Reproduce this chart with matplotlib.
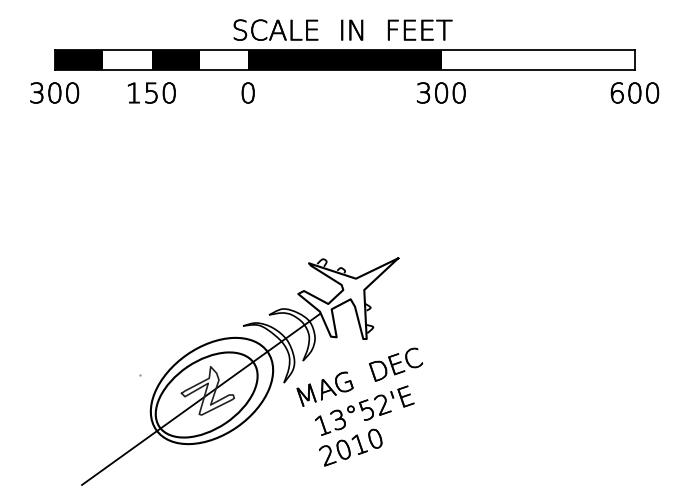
import matplotlib
matplotlib.use("Agg")
import matplotlib.pyplot as plt
import matplotlib.patheffects as pe
from matplotlib.patches import Ellipse, PathPatch
from matplotlib.path import Path

# scale bar, feet
bar_edges = [-300, -225, -150, -75, 0, 300, 600]
bar_colors = ["black", "white", "black", "white", "black", "white"]
tick_feet = [-300, -150, 0, 300, 600]
tick_labels = ["300", "150", "0", "300", "600"]

# drawing outlines, pixels
center_line = [(82, 485), (320, 314)]
plane = [(398.3, 258.3), (356, 278.7), (309, 263.3), (311, 265.7), (341.7, 285), (343.3, 290),
         (328.3, 304), (304, 291), (298.3, 294), (320, 311.7), (331, 336.7), (336.7, 337.3),
         (331.7, 309.3), (350.7, 299.3), (355, 306.7), (363.3, 339), (366.7, 339), (364.3, 290),
         (398.3, 258.3)]
engines = [[(317.3, 264), (322.7, 259.3), (326.7, 261.7), (324, 266.7)],
           [(337.3, 270.7), (341, 268), (345, 270.7), (344.3, 273.3)],
           [(365.7, 304), (370.7, 307.7), (366.7, 310.7)],
           [(366.7, 325), (373.3, 327.3), (367.3, 333.3)]]
crescents = [[(243, 326), (257, 323), (273, 328), (287, 340), (294, 357), (293, 370), (284, 383)],
             [(243, 326), (257, 325), (268, 330), (282, 342), (289, 355), (289, 368), (284, 383)],
             [(269, 315), (283, 309), (298, 313), (310, 322), (315, 337), (312, 350), (303, 361)],
             [(269, 315), (282, 313), (292, 315), (303, 323), (309, 335), (308, 348), (303, 361)]]
north = [(181.7, 393.3), (185, 391), (209.3, 378.3), (210.7, 366.7), (216.7, 373.3), (219, 380),
         (210.7, 405), (229.3, 395), (233.3, 395), (234.3, 398.3), (231.7, 400), (201.7, 415),
         (199.3, 414.3), (208.3, 383.3), (185, 396.7), (181.7, 393.3)]
# center x, center y, width, height, angle
rings = [(212, 391, 136, 88, -35), (206.7, 395, 114, 68, -34)]
speck = (140, 375)
mag_lines = ["MAG  DEC", "13°52'E", "2010"]
mag_starts = [(299, 408), (318, 437), (323, 467)]

FONT = "DejaVu Sans"
STROKE = [pe.withStroke(linewidth=0.5, foreground="black")]


def catmull(pts):
    # smooth curve that goes through every point
    n = len(pts)
    verts = [pts[0]]
    codes = [Path.MOVETO]
    for i in range(n - 1):
        p0, p1, p2, p3 = pts[max(i - 1, 0)], pts[i], pts[i + 1], pts[min(i + 2, n - 1)]
        c1 = (p1[0] + (p2[0] - p0[0]) / 6, p1[1] + (p2[1] - p0[1]) / 6)
        c2 = (p2[0] - (p3[0] - p1[0]) / 6, p2[1] - (p3[1] - p1[1]) / 6)
        verts += [c1, c2, p2]
        codes += [Path.CURVE4] * 3
    return Path(verts, codes)


fig = plt.figure(figsize=(6.93, 4.91), dpi=100)

ax = fig.add_axes([0, 0, 1, 1])
ax.set_xlim(0, 693)
ax.set_ylim(491, 0)
ax.axis("off")

ax.plot(*zip(*center_line), color="black", lw=1.3)
ax.plot(*zip(*plane), color="black", lw=1.5, solid_joinstyle="round")
for eng in engines:
    ax.add_patch(PathPatch(catmull(eng), fc="none", ec="black", lw=1.3))
for cr in crescents:
    ax.add_patch(PathPatch(catmull(cr), fc="none", ec="black", lw=1.2))
for cx, cy, w, h, ang in rings:
    ax.add_patch(Ellipse((cx, cy), w, h, angle=ang, fc="none", ec="black", lw=1.5))
ax.plot(*zip(*north), color="#222222", lw=1.2)
ax.plot(*speck, ".", color="#999999", ms=1.5)

for txt, (tx, ty) in zip(mag_lines, mag_starts):
    ax.text(tx, ty, txt, rotation=19, rotation_mode="anchor", ha="left", va="baseline",
            fontsize=19, family=FONT, fontweight=200, color="black", path_effects=STROKE)

# scale bar gets its own axes so it is placed in feet
bar_ax = fig.add_axes([55 / 693, 1 - 70 / 491, 580 / 693, 20 / 491])
bar_ax.set_xlim(-300, 600)
bar_ax.set_ylim(0, 1)
lefts = bar_edges[:-1]
widths = [b - a for a, b in zip(bar_edges[:-1], bar_edges[1:])]
bar_ax.bar(lefts, [1] * len(lefts), width=widths, align="edge", color=bar_colors)
bar_ax.set_yticks([])
bar_ax.set_xticks(tick_feet)
bar_ax.set_xticklabels(tick_labels, fontsize=20, family=FONT, fontweight=200, color="black",
                       path_effects=STROKE)
bar_ax.tick_params(axis="x", length=0, pad=8)
for s in bar_ax.spines.values():
    s.set_linewidth(1.3)
bar_ax.set_title("SCALE  IN  FEET", fontsize=20, family=FONT, fontweight=200, color="black",
                 pad=7, x=0.495, path_effects=STROKE)

fig.savefig("out.png", dpi=100)
